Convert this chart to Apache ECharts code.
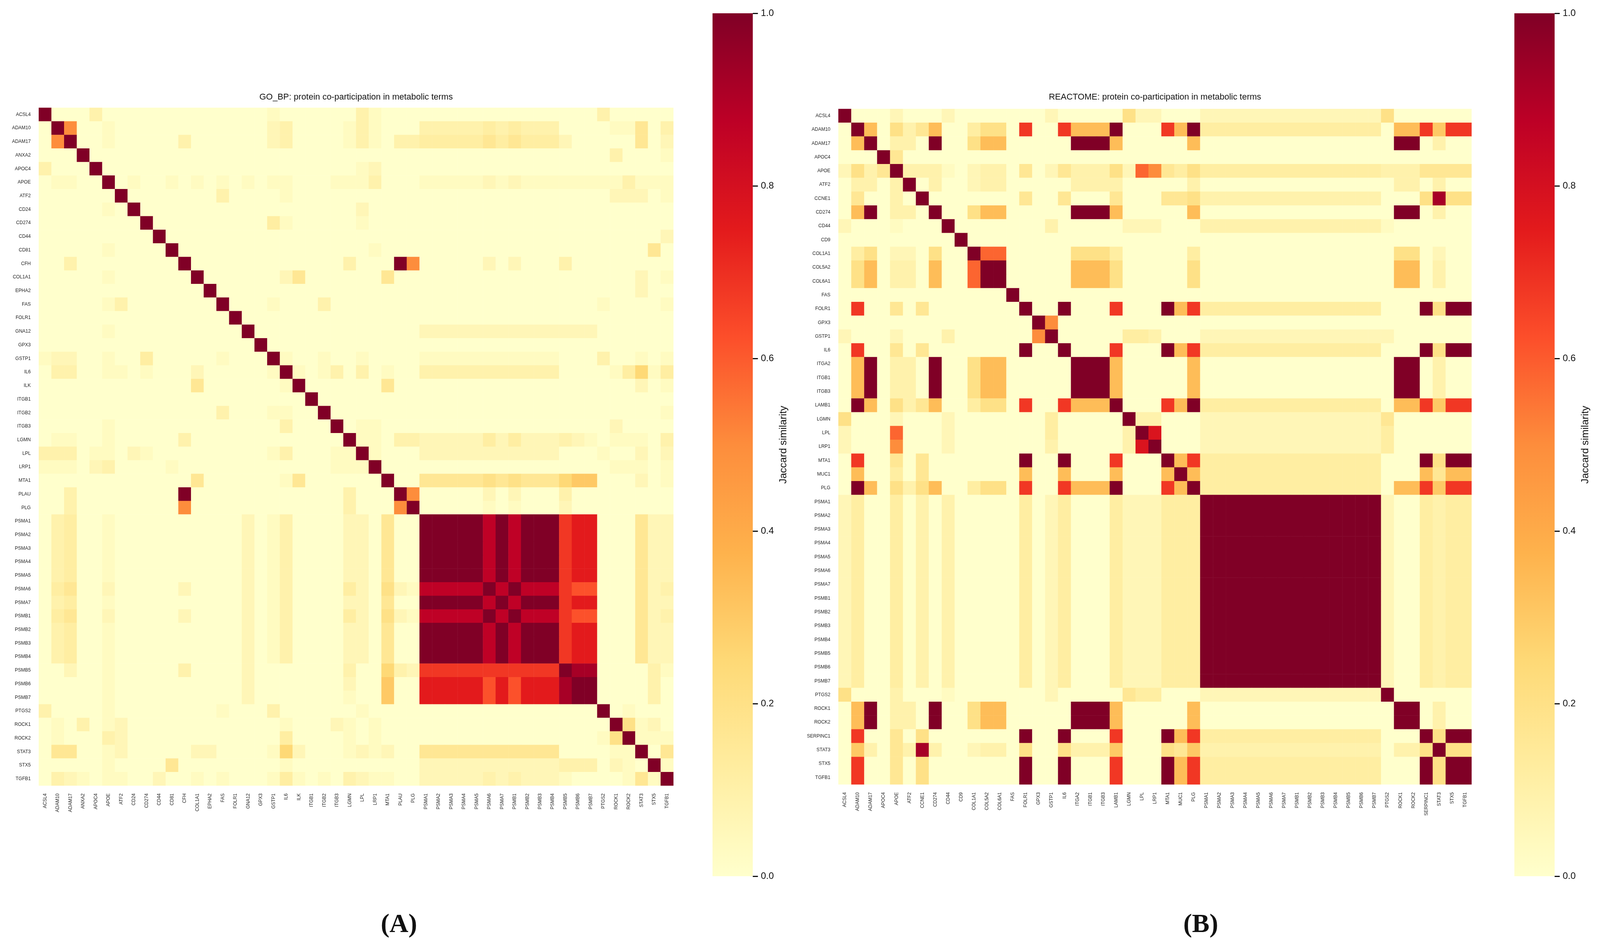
<!DOCTYPE html>
<html><head><meta charset="utf-8">
<script src="https://cdn.jsdelivr.net/npm/echarts@6/dist/echarts.min.js"></script>
<style>html,body{margin:0;padding:0;background:#fff;overflow:hidden}#c{width:4372px;height:2433px}</style>
</head><body><div id="c"></div>
<script>
// ---------- DATA ----------
const goLabels = ["ACSL4","ADAM10","ADAM17","ANXA2","APOC4","APOE","ATF2","CD24","CD274","CD44","CD81","CFH","COL1A1","EPHA2","FAS","FOLR1","GNA12","GPX3","GSTP1","IL6","ILK","ITGB1","ITGB2","ITGB3","LGMN","LPL","LRP1","MTA1","PLAU","PLG","PSMA1","PSMA2","PSMA3","PSMA4","PSMA5","PSMA6","PSMA7","PSMB1","PSMB2","PSMB3","PSMB4","PSMB5","PSMB6","PSMB7","PTGS2","ROCK1","ROCK2","STAT3","STX5","TGFB1"];
const reLabels = ["ACSL4","ADAM10","ADAM17","APOC4","APOE","ATF2","CCNE1","CD274","CD44","CD9","COL1A1","COL5A2","COL6A1","FAS","FOLR1","GPX3","GSTP1","IL6","ITGA2","ITGB1","ITGB3","LAMB1","LGMN","LPL","LRP1","MTA1","MUC1","PLG","PSMA1","PSMA2","PSMA3","PSMA4","PSMA5","PSMA6","PSMA7","PSMB1","PSMB2","PSMB3","PSMB4","PSMB5","PSMB6","PSMB7","PTGS2","ROCK1","ROCK2","SERPINC1","STAT3","STX5","TGFB1"];

// value read for each cell, coded by one character
const levelValues = {"0":0,"1":0.03,"2":0.06,"3":0.09,"4":0.12,"5":0.16,"6":0.2,"7":0.25,"8":0.3,"9":0.5,"a":0.62,"b":0.68,"c":0.75,"d":0.87,"e":0.92,"f":1.0,"g":0.34,"h":0.58,"i":0.78};

// GO_BP Jaccard matrix, one string per row (row order = goLabels)
const goRows = [
"f000300000"+"0000000010"+"0000031000"+"0000000000"+"0000300000",
"0f90010000"+"0000000012"+"0000131000"+"3333343433"+"3000011503",
"09f0010000"+"0300000013"+"0000131033"+"4444454544"+"4200000502",
"000f000000"+"0000000000"+"0000000000"+"0000000000"+"0000030001",
"3000f00000"+"0000000000"+"0000012000"+"0000000000"+"0000000000",
"01100f0100"+"1010101011"+"0001113000"+"1111121211"+"1111113111",
"000000f000"+"0000300001"+"0000000000"+"0000000000"+"0000022201",
"0000010f00"+"0000000000"+"0000020000"+"0000000000"+"0000000000",
"00000000f0"+"0000000041"+"0000010000"+"0000000000"+"0000000000",
"000000000f"+"0000000000"+"0000000000"+"0000000000"+"0000000002",
"0000000000"+"f000000000"+"0000001000"+"0000000000"+"0000000050",
"0030000000"+"0f00000000"+"00003000f9"+"0000020200"+"0300000000",
"0000000000"+"00f0000001"+"5000000500"+"0000000000"+"0000000201",
"0000000000"+"000f000000"+"0000000000"+"0000000000"+"0000000100",
"0000003000"+"0000f00010"+"0030000000"+"0000000000"+"0000100001",
"0000000000"+"00000f0000"+"0000000000"+"0000000000"+"0000000000",
"0000000000"+"000000f000"+"0000000000"+"2222222222"+"2222000000",
"0000000000"+"0000000f00"+"0000000000"+"0000000000"+"0000000000",
"1220000040"+"00001000f1"+"0010010000"+"1111111111"+"1000300101",
"0330011010"+"002000001f"+"1013030100"+"3333333333"+"3000014714",
"0000000000"+"0050000001"+"f000000400"+"0000000000"+"0000000201",
"0000000000"+"0000000000"+"0f00000000"+"0000000000"+"0000000000",
"0000000000"+"0000300011"+"00f0000000"+"0000000000"+"0000000001",
"0000010000"+"0000000003"+"000f011000"+"0000000000"+"0000020000",
"0110010000"+"0300000000"+"0000f01033"+"2222242422"+"2320011103",
"3220110210"+"0000000013"+"00011f0000"+"2222222222"+"2000100202",
"1110230000"+"1000000000"+"000111f000"+"0000000000"+"0000011100",
"0000000000"+"0050000001"+"5000000f00"+"5555565655"+"5788000101",
"0030000000"+"0f00000000"+"00003000f9"+"0000020200"+"0300000000",
"0030000000"+"0900000000"+"000030009f"+"0000010100"+"0200000000",
"0340010000"+"0000002013"+"0000220500"+"fffffdfdff"+"fbcc000412",
"0340010000"+"0000002013"+"0000220500"+"fffffdfdff"+"fbcc000412",
"0340010000"+"0000002013"+"0000220500"+"fffffdfdff"+"fbcc000412",
"0340010000"+"0000002013"+"0000220500"+"fffffdfdff"+"fbcc000412",
"0340010000"+"0000002013"+"0000220500"+"fffffdfdff"+"fbcc000412",
"0350010000"+"0200002013"+"0000420621"+"dddddfdfdd"+"dbaa000413",
"0340010000"+"0000002013"+"0000220500"+"fffffdfdff"+"fbcc000412",
"0350010000"+"0200002013"+"0000420621"+"dddddfdfdd"+"dbaa000413",
"0340010000"+"0000002013"+"0000220500"+"fffffdfdff"+"fbcc000412",
"0340010000"+"0000002013"+"0000220500"+"fffffdfdff"+"fbcc000412",
"0340010000"+"0000002013"+"0000220500"+"fffffdfdff"+"fbcc000412",
"0020010000"+"0300002000"+"0000300732"+"bbbbbbbbbb"+"bfee000010",
"0000010000"+"0000002000"+"0000100800"+"cccccacacc"+"ceff000020",
"0000010000"+"0000002000"+"0000100800"+"cccccacacc"+"ceff000020",
"3000010000"+"0000100030"+"0000010000"+"0000000000"+"0000f01000",
"0103012000"+"0000000001"+"0002000000"+"0000000000"+"00000f6110",
"0100022000"+"0000000004"+"0000101000"+"0000000000"+"000016f111",
"0550012000"+"0022000017"+"2000121200"+"5555555555"+"5000011f05",
"0000010000"+"5000000001"+"0000000000"+"2222222222"+"23330210f0",
"0221011002"+"0010100014"+"1010321100"+"2222232322"+"210000051f"
];

// REACTOME Jaccard matrix, one string per row (row order = reLabels)
const reRows = [
"f000200010"+"0000002000"+"0051100011"+"1111111111"+"115000000",
"0fg0635g00"+"4660b00bgg"+"gf000bgf44"+"4444444444"+"440ggb8bb",
"0gf0330f00"+"6gg00000ff"+"fg00000g00"+"0000000000"+"000ff0300",
"000f500000"+"0000000000"+"0000000000"+"0000000000"+"000000000",
"2635f33210"+"2330502533"+"362h954644"+"4444444444"+"443335555",
"03302f0300"+"2330000033"+"3300000300"+"0000000000"+"000330200",
"050030f000"+"0000500500"+"0500053633"+"3333333333"+"330006e66",
"0gf0330f00"+"6gg00000ff"+"fg00000g00"+"0000000000"+"000ff0300",
"20001000f0"+"0000003000"+"0022200033"+"3333333333"+"331000000",
"000000000f"+"0000000000"+"0000000000"+"0000000000"+"000000000",
"0460220600"+"fhh0000066"+"6400000400"+"0000000000"+"000660200",
"05g0230g00"+"hff00000gg"+"g500000500"+"0000000000"+"000gg0300",
"05g0230g00"+"hff00000gg"+"g500000500"+"0000000000"+"000gg0300",
"0000000000"+"000f000000"+"0000000000"+"0000000000"+"000000000",
"0b00505000"+"0000f00f00"+"0b000fgb44"+"4444444444"+"44000f6ff",
"0000000000"+"00000f9000"+"0000000000"+"0000000000"+"000000000",
"2000200030"+"000009f000"+"0044300022"+"2222222222"+"222000000",
"0b00505000"+"0000f00f00"+"0b000fgb44"+"4444444444"+"44000f6ff",
"0gf0330f00"+"6gg00000ff"+"fg00000g00"+"0000000000"+"000ff0300",
"0gf0330f00"+"6gg00000ff"+"fg00000g00"+"0000000000"+"000ff0300",
"0gf0330f00"+"6gg00000ff"+"fg00000g00"+"0000000000"+"000ff0300",
"0fg0635g00"+"4660b00bgg"+"gf000bgf44"+"4444444444"+"440ggb8bb",
"6000200020"+"0000004000"+"00f3300022"+"2222222222"+"225000000",
"2000h00010"+"0000004000"+"002fi00022"+"2222222222"+"223000000",
"2000900010"+"0000003000"+"002if00022"+"2222222222"+"223000000",
"0b00505000"+"0000f00f00"+"0b000fgb44"+"4444444444"+"44000f6ff",
"0g00405000"+"0000g00g00"+"0g000gfg44"+"4444444444"+"44000g5gg",
"0fg0635g00"+"4660b00bgg"+"gf000bgf44"+"4444444444"+"440ggb8bb",
"2400403020"+"0000402400"+"04222434ff"+"ffffffffff"+"ff1004344",
"2400403020"+"0000402400"+"04222434ff"+"ffffffffff"+"ff1004344",
"2400403020"+"0000402400"+"04222434ff"+"ffffffffff"+"ff1004344",
"2400403020"+"0000402400"+"04222434ff"+"ffffffffff"+"ff1004344",
"2400403020"+"0000402400"+"04222434ff"+"ffffffffff"+"ff1004344",
"2400403020"+"0000402400"+"04222434ff"+"ffffffffff"+"ff1004344",
"2400403020"+"0000402400"+"04222434ff"+"ffffffffff"+"ff1004344",
"2400403020"+"0000402400"+"04222434ff"+"ffffffffff"+"ff1004344",
"2400403020"+"0000402400"+"04222434ff"+"ffffffffff"+"ff1004344",
"2400403020"+"0000402400"+"04222434ff"+"ffffffffff"+"ff1004344",
"2400403020"+"0000402400"+"04222434ff"+"ffffffffff"+"ff1004344",
"2400403020"+"0000402400"+"04222434ff"+"ffffffffff"+"ff1004344",
"2400403020"+"0000402400"+"04222434ff"+"ffffffffff"+"ff1004344",
"2400403020"+"0000402400"+"04222434ff"+"ffffffffff"+"ff1004344",
"6000300010"+"0000002000"+"0054400022"+"2222222222"+"22f000000",
"0gf0330f00"+"6gg00000ff"+"fg00000g00"+"0000000000"+"000ff0300",
"0gf0330f00"+"6gg00000ff"+"fg00000g00"+"0000000000"+"000ff0300",
"0b00505000"+"0000f00f00"+"0b000fgb44"+"4444444444"+"44000f6ff",
"083053e300"+"2330600633"+"3800065833"+"3333333333"+"330336f66",
"0b00505000"+"0000f00f00"+"0b000fgb44"+"4444444444"+"44000f6ff",
"0b00505000"+"0000f00f00"+"0b000fgb44"+"4444444444"+"44000f6ff"
];

const colorbarTicks = [0, 0.2, 0.4, 0.6, 0.8, 1.0];
const titles = ["GO_BP: protein co-participation in metabolic terms", "REACTOME: protein co-participation in metabolic terms"];
const panelTags = ["(A)", "(B)"];
const cbarName = "Jaccard similarity";

// ---------- STYLE / LAYOUT ----------
const ylOrRd = ['#ffffcc','#ffeda0','#fed976','#feb24c','#fd8d3c','#fc4e2a','#e31a1c','#bd0026','#800026'];
const FONT = '"Liberation Sans", Arial, sans-serif';

// layout designed for 4372 x 2433; scaled to the actual viewport
const W = document.documentElement.clientWidth || 4372;
const H = document.documentElement.clientHeight || 2433;
const sx = W / 4372, sy = H / 2433, sf = Math.min(sx, sy);
const el = document.getElementById('c');
el.style.width = W + 'px'; el.style.height = H + 'px';
const X = v => v * sx, Y = v => v * sy, F = v => Math.max(6, Math.round(v * sf));

function cell(rows, i, j) {
  const a = levelValues[(rows[i] || '')[j]] ?? 0;
  const b = levelValues[(rows[j] || '')[i]] ?? 0;
  return Math.max(a, b);
}
function buildData(rows, n) {
  const out = [];
  for (let i = 0; i < n; i++) for (let j = 0; j < n; j++) out.push([j, i, cell(rows, i, j)]);
  return out;
}
const goData = buildData(goRows, goLabels.length);
const reData = buildData(reRows, reLabels.length);

const gradient = {
  type: 'linear', x: 0, y: 1, x2: 0, y2: 0,
  colorStops: ylOrRd.map((c, k) => ({offset: k / (ylOrRd.length - 1), color: c}))
};

const grids = [
  {left: X(106), top: Y(276), width: X(1734), height: Y(1736)},
  {left: X(2291), top: Y(279), width: X(1730), height: Y(1730)},
  {left: X(1947), top: Y(34), width: X(110), height: Y(2210), show: true, backgroundColor: gradient, borderWidth: 0},
  {left: X(4138), top: Y(34), width: X(110), height: Y(2210), show: true, backgroundColor: gradient, borderWidth: 0}
];

function catX(labels, gi) {
  return {type: 'category', data: labels, gridIndex: gi, axisLine: {show: false}, axisTick: {show: false},
    axisLabel: {interval: 0, rotate: 90, fontSize: F(13), margin: Y(20), color: '#222', fontFamily: FONT},
    splitArea: {show: false}, splitLine: {show: false}};
}
function catY(labels, gi) {
  return {type: 'category', data: labels, gridIndex: gi, inverse: true, axisLine: {show: false}, axisTick: {show: false},
    axisLabel: {interval: 0, fontSize: F(13), margin: X(22), color: '#222', fontFamily: FONT},
    splitArea: {show: false}, splitLine: {show: false}};
}
function cbarX(gi) { return {type: 'category', data: [''], gridIndex: gi, show: false}; }
function cbarY(gi) {
  return {type: 'value', gridIndex: gi, min: colorbarTicks[0], max: colorbarTicks[colorbarTicks.length - 1],
    interval: colorbarTicks[1] - colorbarTicks[0], position: 'right',
    axisLine: {show: false}, splitLine: {show: false},
    axisTick: {show: true, length: X(14), lineStyle: {color: '#111', width: 3}},
    axisLabel: {fontSize: F(26), margin: X(22), color: '#111', fontFamily: FONT, formatter: v => v.toFixed(1)},
    name: cbarName, nameLocation: 'middle', nameGap: X(70), nameRotate: 90,
    nameTextStyle: {fontSize: F(28), color: '#111', fontFamily: FONT}};
}

const txt = (x, y, text, font) => ({type: 'text', x, y, style: {text, font, fill: '#111', align: 'center', verticalAlign: 'middle', textAlign: 'center', textVerticalAlign: 'middle'}});

const option = {
  backgroundColor: '#ffffff',
  animation: false,
  grid: grids,
  xAxis: [catX(goLabels, 0), catX(reLabels, 1), cbarX(2), cbarX(3)],
  yAxis: [catY(goLabels, 0), catY(reLabels, 1), cbarY(2), cbarY(3)],
  visualMap: [{type: 'continuous', min: 0, max: 1, seriesIndex: [0, 1], show: false, inRange: {color: ylOrRd}}],
  series: [
    {type: 'heatmap', xAxisIndex: 0, yAxisIndex: 0, data: goData, progressive: 0, itemStyle: {borderWidth: 0}, emphasis: {disabled: true}},
    {type: 'heatmap', xAxisIndex: 1, yAxisIndex: 1, data: reData, progressive: 0, itemStyle: {borderWidth: 0}, emphasis: {disabled: true}}
  ],
  graphic: [
    txt(X(973), Y(249), titles[0], F(24) + 'px ' + FONT),
    txt(X(3156), Y(249), titles[1], F(24) + 'px ' + FONT),
    txt(X(1090), Y(2370), panelTags[0], 'bold ' + F(72) + 'px "Liberation Serif", "Times New Roman", serif'),
    txt(X(3281), Y(2370), panelTags[1], 'bold ' + F(72) + 'px "Liberation Serif", "Times New Roman", serif')
  ]
};

const chart = echarts.init(el, null, {renderer: 'canvas', width: W, height: H});
chart.setOption(option);
</script>
</body></html>
